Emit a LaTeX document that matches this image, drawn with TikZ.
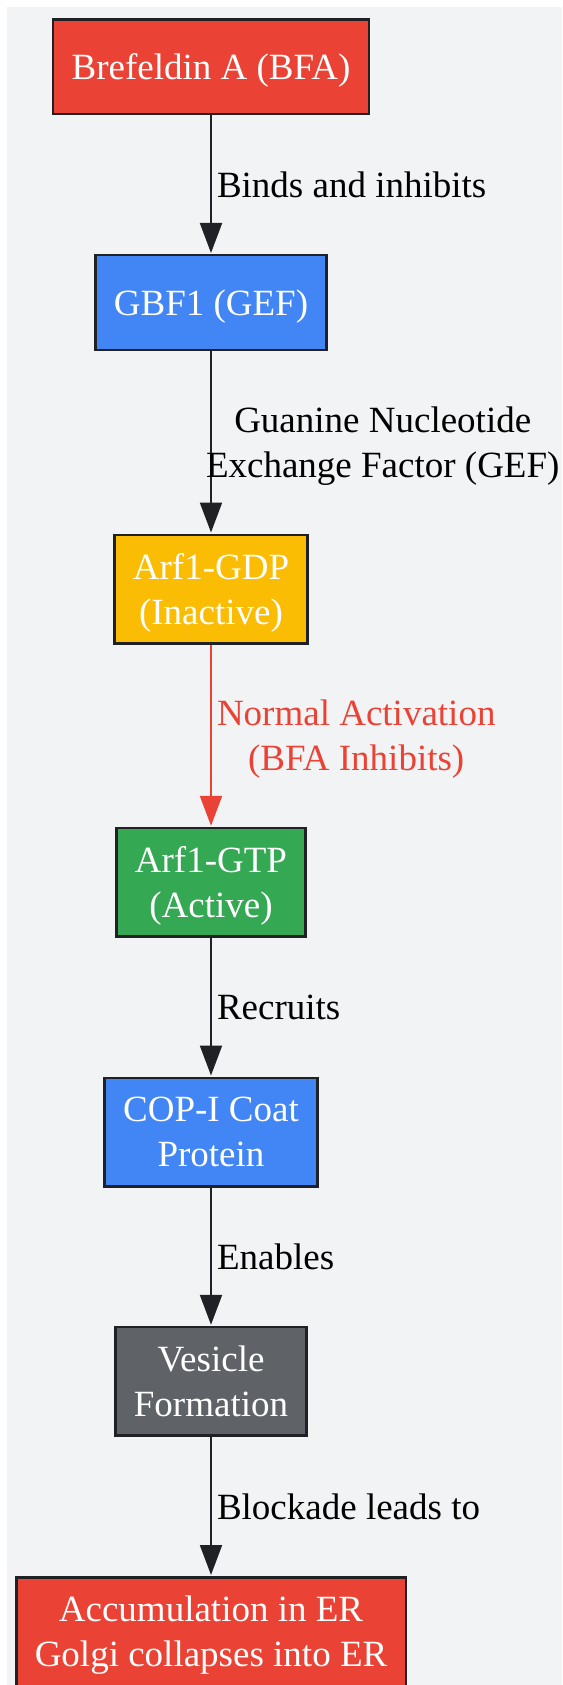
\documentclass[tikz,border=0pt]{standalone}
\usepackage{fontspec}
\setmainfont{Liberation Serif}
\usetikzlibrary{arrows.meta}
\definecolor{bgcol}{HTML}{F1F3F4}
\definecolor{linecol}{HTML}{202124}
\definecolor{redc}{HTML}{EA4335}
\definecolor{bluec}{HTML}{4285F4}
\definecolor{yellowc}{HTML}{FBBC04}
\definecolor{greenc}{HTML}{34A853}
\definecolor{grayc}{HTML}{5F6368}
\begin{document}
\begin{tikzpicture}[x=1pt,y=-1pt,
  box/.style={draw=linecol,line width=2.5pt,text=white,inner xsep=18.5pt,text depth=0pt,minimum height=94.5pt,align=center,font=\fontsize{37}{45}\selectfont},
  tall/.style={minimum height=108.5pt},
  flow/.style={draw=linecol,line width=2pt,shorten >=1pt,-{Triangle[length=30pt,width=22pt]}},
  lbl/.style={anchor=west,inner sep=5pt,text depth=0pt,align=center,text=black,font=\fontsize{37}{45}\selectfont}]
\useasboundingbox (0,0) rectangle (562,1685);
\fill[bgcol] (6.5,7.5) rectangle (562,1685);
\node[box,fill=redc] (bfa) at (211,66.7) {Brefeldin A (BFA)};
\node[box,fill=bluec] (gbf) at (211,302.5) {GBF1 (GEF)};
\node[box,tall,fill=yellowc] (gdp) at (211,589) {Arf1-GDP\\(Inactive)};
\node[box,tall,fill=greenc] (gtp) at (211,882.3) {Arf1-GTP\\(Active)};
\node[box,tall,fill=bluec] (cop) at (211,1132) {COP-I Coat\\Protein};
\node[box,tall,fill=grayc] (ves) at (211,1381.3) {Vesicle\\Formation};
\node[box,tall,fill=redc] (er) at (211,1631.5) {Accumulation in ER\\Golgi collapses into ER};
\draw[flow] (bfa) -- node[lbl]{Binds and inhibits} (gbf);
\draw[flow] (gbf) -- node[lbl,xshift=-11pt]{Guanine Nucleotide\\Exchange Factor (GEF)} (gdp);
\draw[flow,draw=redc] (gdp) -- node[lbl,text=redc]{Normal Activation\\(BFA Inhibits)} (gtp);
\draw[flow] (gtp) -- node[lbl]{Recruits} (cop);
\draw[flow] (cop) -- node[lbl]{Enables} (ves);
\draw[flow] (ves) -- node[lbl]{Blockade leads to} (er);
\end{tikzpicture}
\end{document}
